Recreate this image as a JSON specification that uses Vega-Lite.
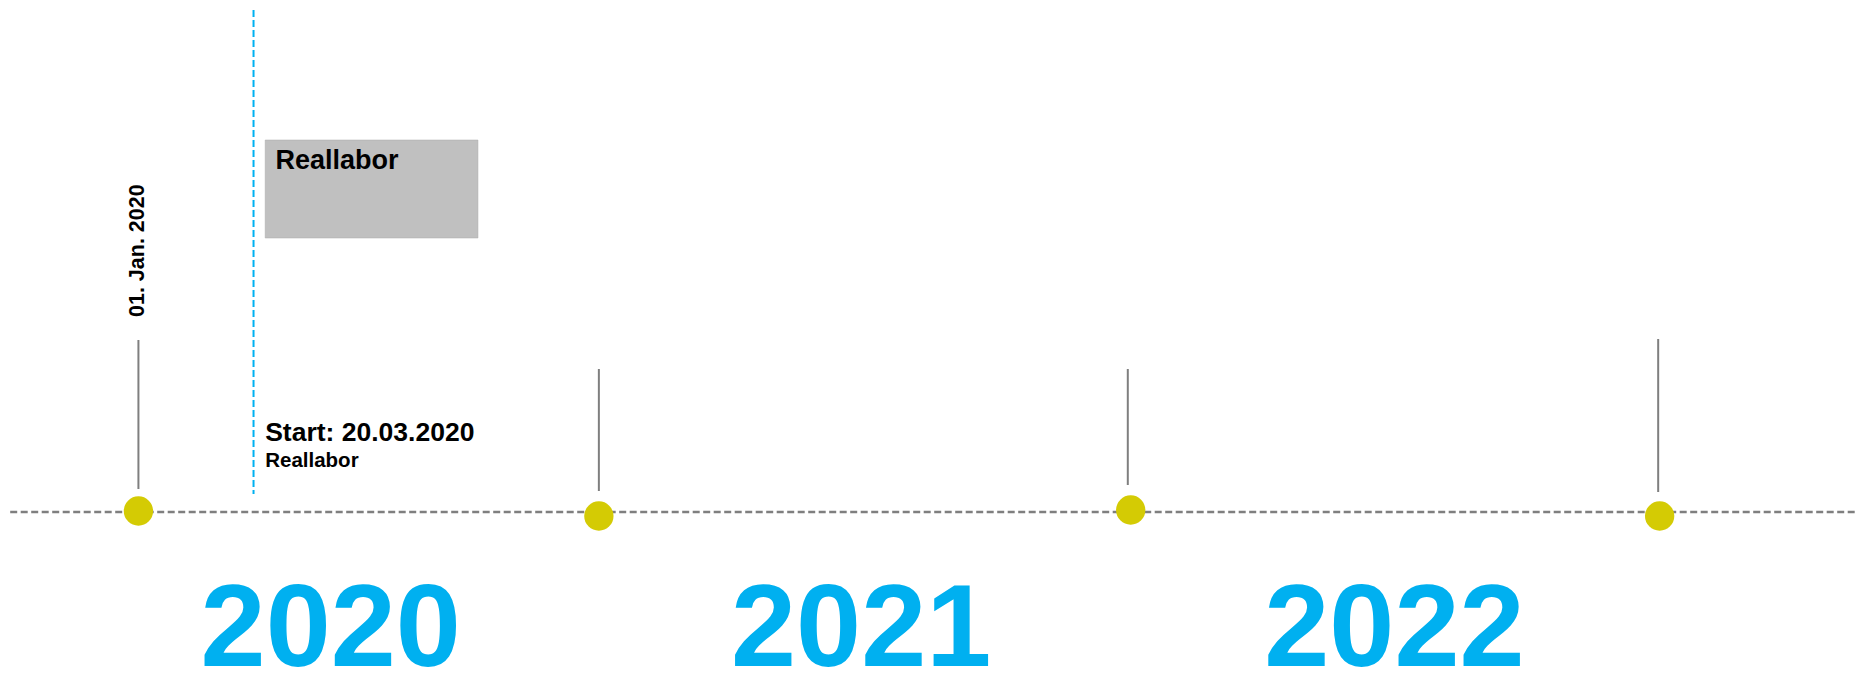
{
  "$schema": "https://vega.github.io/schema/vega-lite/v6.json",
  "width": 1868,
  "height": 673,
  "padding": 0,
  "autosize": {"type": "none"},
  "background": "white",
  "config": {"view": {"stroke": null}, "font": "Liberation Sans"},
  "datasets": {
    "timeline": [{"start": "2019-10-05", "end": "2023-03-26", "level": 0}],
    "stems": [
      {"date": "2020-01-01", "top": 172, "bottom": 23},
      {"date": "2020-11-12", "top": 143, "bottom": 21},
      {"date": "2021-11-10", "top": 143, "bottom": 27},
      {"date": "2022-11-09", "top": 173, "bottom": 20}
    ],
    "milestones": [
      {"date": "2020-01-01", "level": 1},
      {"date": "2020-11-12", "level": -4},
      {"date": "2021-11-12", "level": 2},
      {"date": "2022-11-10", "level": -4}
    ],
    "start": [{"date": "2020-03-20", "top": 502, "bottom": 18}],
    "phase": [{"from": "2020-03-28", "to": "2020-08-21", "top": 372, "bottom": 274, "label": "Reallabor", "labelDate": "2020-04-04", "labelLevel": 343}],
    "dateLabel": [{"date": "2020-01-01", "level": 195, "text": "01. Jan. 2020"}],
    "startTitle": [{"date": "2020-03-28", "level": 71, "text": "Start: 20.03.2020"}],
    "startSub": [{"date": "2020-03-28", "level": 45, "text": "Reallabor"}],
    "years": [
      {"date": "2020-05-12", "level": -154, "text": "2020"},
      {"date": "2021-05-11", "level": -154, "text": "2021"},
      {"date": "2022-05-12", "level": -154, "text": "2022"}
    ]
  },
  "resolve": {"scale": {"x": "shared", "y": "shared"}},
  "encoding": {},
  "layer": [
    {
      "data": {"name": "timeline"},
      "mark": {"type": "rule", "color": "#7f7f7f", "strokeWidth": 2.5, "strokeDash": [7, 3.5]},
      "encoding": {
        "x": {"field": "start", "type": "temporal", "axis": null, "scale": {"type": "utc", "domain": [{"year": 2019, "month": 9, "date": 28, "utc": true}, {"year": 2023, "month": 4, "date": 2, "utc": true}], "nice": false}},
        "x2": {"field": "end"},
        "y": {"field": "level", "type": "quantitative", "axis": null, "scale": {"domain": [-161, 512], "nice": false, "zero": false}}
      }
    },
    {
      "data": {"name": "stems"},
      "mark": {"type": "rule", "color": "#7f7f7f", "strokeWidth": 2},
      "encoding": {
        "x": {"field": "date", "type": "temporal"},
        "y": {"field": "top", "type": "quantitative"},
        "y2": {"field": "bottom"}
      }
    },
    {
      "data": {"name": "milestones"},
      "mark": {"type": "circle", "color": "#D4CB04", "opacity": 1, "size": 860},
      "encoding": {
        "x": {"field": "date", "type": "temporal"},
        "y": {"field": "level", "type": "quantitative"}
      }
    },
    {
      "data": {"name": "start"},
      "mark": {"type": "rule", "color": "#00B0F0", "strokeWidth": 2, "strokeDash": [7, 3]},
      "encoding": {
        "x": {"field": "date", "type": "temporal"},
        "y": {"field": "top", "type": "quantitative"},
        "y2": {"field": "bottom"}
      }
    },
    {
      "data": {"name": "phase"},
      "mark": {"type": "rect", "color": "#c0c0c0", "stroke": "#a8a8a8", "strokeWidth": 0.5},
      "encoding": {
        "x": {"field": "from", "type": "temporal"},
        "x2": {"field": "to"},
        "y": {"field": "top", "type": "quantitative"},
        "y2": {"field": "bottom"}
      }
    },
    {
      "data": {"name": "phase"},
      "mark": {"type": "text", "align": "left", "baseline": "alphabetic", "fontSize": 27, "fontWeight": "bold", "color": "#000000"},
      "encoding": {
        "x": {"field": "labelDate", "type": "temporal"},
        "y": {"field": "labelLevel", "type": "quantitative"},
        "text": {"field": "label"}
      }
    },
    {
      "data": {"name": "dateLabel"},
      "mark": {"type": "text", "align": "left", "baseline": "middle", "angle": 270, "fontSize": 21.5, "fontWeight": "bold", "color": "#000000"},
      "encoding": {
        "x": {"field": "date", "type": "temporal"},
        "y": {"field": "level", "type": "quantitative"},
        "text": {"field": "text"}
      }
    },
    {
      "data": {"name": "startTitle"},
      "mark": {"type": "text", "align": "left", "baseline": "alphabetic", "fontSize": 26.5, "fontWeight": "bold", "color": "#000000"},
      "encoding": {
        "x": {"field": "date", "type": "temporal"},
        "y": {"field": "level", "type": "quantitative"},
        "text": {"field": "text"}
      }
    },
    {
      "data": {"name": "startSub"},
      "mark": {"type": "text", "align": "left", "baseline": "alphabetic", "fontSize": 20.5, "fontWeight": "bold", "color": "#000000"},
      "encoding": {
        "x": {"field": "date", "type": "temporal"},
        "y": {"field": "level", "type": "quantitative"},
        "text": {"field": "text"}
      }
    },
    {
      "data": {"name": "years"},
      "mark": {"type": "text", "align": "center", "baseline": "alphabetic", "fontSize": 117, "fontWeight": "bold", "color": "#00B0F0"},
      "encoding": {
        "x": {"field": "date", "type": "temporal"},
        "y": {"field": "level", "type": "quantitative"},
        "text": {"field": "text"}
      }
    }
  ]
}
